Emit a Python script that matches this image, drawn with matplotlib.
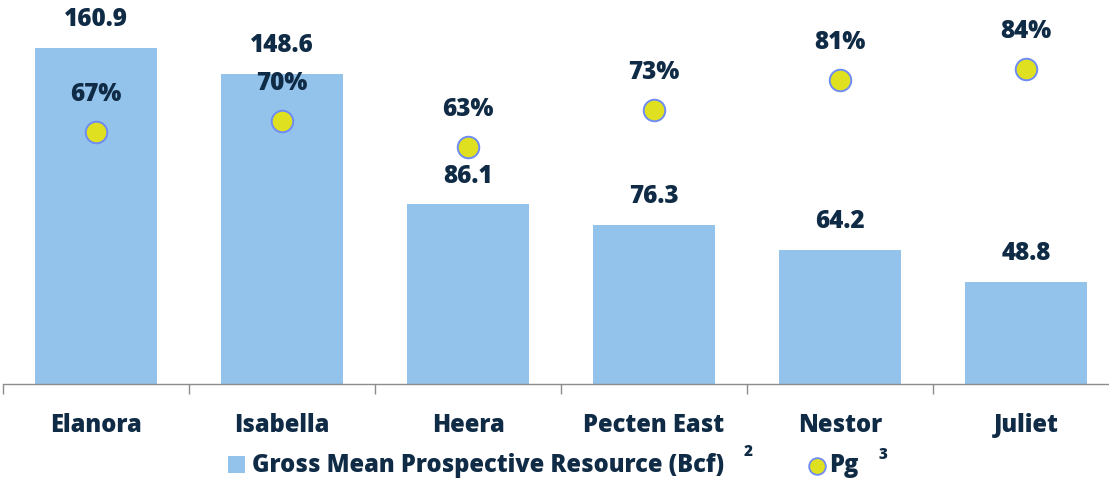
import matplotlib
matplotlib.use("Agg")
import matplotlib.pyplot as plt
from matplotlib.patches import Rectangle
from matplotlib.lines import Line2D

categories = ["Elanora", "Isabella", "Heera", "Pecten East", "Nestor", "Juliet"]
resource_bcf = [160.9, 148.6, 86.1, 76.3, 64.2, 48.8]
pg_pct = [67, 70, 63, 73, 81, 84]

W, H = 1109, 489
DPI = 100
plt.rcParams['font.family'] = ['Open Sans', 'DejaVu Sans']
TXT = '#0f2b45'
BAR = '#93c2ea'
PT_FACE = '#dfe01f'
PT_EDGE = '#6f8cf5'
WT = 800

fig = plt.figure(figsize=(W / DPI, H / DPI), dpi=DPI)
fig.patch.set_facecolor('white')

def fx(px):
    return px / W

def fy(py):
    return 1 - py / H

left_px, right_px = 3, 3 + 6 * 186
base_px, top_px = 385, 0
ax = fig.add_axes([fx(left_px), fy(base_px), fx(right_px - left_px), (base_px - top_px) / H])
ax2 = ax.twinx()

x = list(range(len(categories)))
ax.bar(x, resource_bcf, width=0.66, color=BAR, zorder=2)
ax.set_xlim(-0.5, len(categories) - 0.5)
ax.set_ylim(0, 184.4)

ax2.plot(x, pg_pct, linestyle='none', marker='o', markersize=15.5,
         markerfacecolor=PT_FACE, markeredgecolor=PT_EDGE, markeredgewidth=1.4, zorder=3)
ax2.set_ylim(-0.8, 102.9)

for a in (ax, ax2):
    for s in a.spines.values():
        s.set_visible(False)
    a.set_yticks([])
ax.spines['bottom'].set_visible(True)
ax.spines['bottom'].set_color('#8c8c8c')
ax.spines['bottom'].set_linewidth(1.0)

ax.set_xticks(x)
ax.set_xticklabels(categories, fontsize=17, fontweight=WT, color=TXT)
ax.tick_params(axis='x', which='major', length=0, pad=20)
ax.set_xticks([i - 0.5 for i in range(len(categories) + 1)], minor=True)
ax.tick_params(axis='x', which='minor', length=7, width=1.0, color='#8c8c8c', direction='out')

for xi, v in zip(x, resource_bcf):
    ax.annotate(f"{v:.1f}", (xi, v), xytext=(0, 21), textcoords='offset points',
                ha='center', va='center', fontsize=17.5, fontweight=WT, color=TXT)
for xi, v in zip(x, pg_pct):
    ax2.annotate(f"{v}%", (xi, v), xytext=(0, 28), textcoords='offset points',
                 ha='center', va='center', fontsize=17.5, fontweight=WT, color=TXT)

# Legend (manual)
fig.patches.append(Rectangle((fx(228), fy(474)), fx(17), 17 / H, transform=fig.transFigure,
                             facecolor=BAR, edgecolor='none'))
fig.text(fx(252), fy(466), "Gross Mean Prospective Resource (Bcf)", fontsize=17,
         fontweight=WT, color=TXT, ha='left', va='center')
fig.text(fx(748), fy(452), "2", fontsize=11, fontweight=WT, color=TXT, ha='center', va='center')
fig.lines.append(Line2D([fx(817)], [fy(467)], transform=fig.transFigure, marker='o',
                        markersize=12, markerfacecolor=PT_FACE, markeredgecolor=PT_EDGE,
                        markeredgewidth=1.3, linestyle='none'))
fig.text(fx(829), fy(466), "Pg", fontsize=17, fontweight=WT, color=TXT, ha='left', va='center')
fig.text(fx(883), fy(455), "3", fontsize=11, fontweight=WT, color=TXT, ha='center', va='center')

fig.savefig("out.png", dpi=DPI, facecolor='white')
